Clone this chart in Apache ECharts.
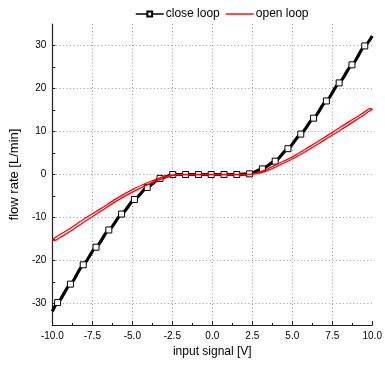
<!DOCTYPE html>
<html>
<head>
<meta charset="utf-8">
<script src="https://cdn.jsdelivr.net/npm/echarts@6/dist/echarts.min.js"></script>
<style>html,body{margin:0;padding:0;background:#fff}#c{width:385px;height:369px}</style>
</head>
<body>
<div id="c"></div>
<script>
// close loop markers (input signal [V], flow rate [L/min])
var closeX = [-9.67, -8.87, -8.07, -7.27, -6.47, -5.67, -4.87, -4.07, -3.27, -2.47, -1.67, -0.87, -0.07, 0.73, 1.53, 2.33, 3.13, 3.93, 4.73, 5.53, 6.33, 7.13, 7.93, 8.73, 9.53];
var closeY = [-29.8, -25.5, -21.0, -16.9, -12.9, -9.2, -5.8, -3.0, -0.9, 0, 0, 0, 0, 0, 0, 0.15, 1.3, 3.1, 6.0, 9.4, 13.1, 17.1, 21.3, 25.5, 29.9];
var closeStart = [-10.0, -31.8];
var closeEnd = [10.0, 32.2];

// open loop: increasing sweep (lower branch) then decreasing sweep (upper branch)
var openUpX = [-10.0, -9.85, -9.5, -9.0, -8.0, -7.0, -6.0, -5.0, -4.0, -3.5, -3.0, -2.5, -2.0, 2.0, 2.5, 3.0, 3.5, 4.0, 5.0, 6.0, 7.0, 8.0, 9.0, 9.5, 9.8, 10.0];
var openUpY = [-15.1, -15.35, -14.6, -13.5, -11.0, -8.6, -6.2, -4.1, -2.3, -1.5, -0.8, -0.25, -0.02, 0, 0.08, 0.4, 1.0, 1.8, 3.6, 5.7, 8.0, 10.3, 12.7, 13.9, 14.7, 15.2];
var openDownX = [10.0, 9.85, 9.5, 9.0, 8.0, 7.0, 6.0, 5.0, 4.0, 3.5, 3.0, 2.5, 2.0, -2.0, -2.5, -3.0, -3.5, -4.0, -5.0, -6.0, -7.0, -8.0, -9.0, -9.5, -9.8, -10.0];
var openDownY = [15.2, 15.3, 14.5, 13.3, 11.0, 8.6, 6.3, 4.1, 2.3, 1.4, 0.65, 0.15, 0.02, 0, -0.08, -0.45, -1.1, -1.8, -3.5, -5.6, -8.0, -10.3, -12.8, -13.9, -14.6, -15.1];

// axis ticks
var xMin = -10, xMax = 10, xStep = 2.5;
var yMin = -35, yMax = 35, yStep = 5, yLabelStep = 10;

var closeData = [{value: closeStart, symbol: 'none'}];
for (var i = 0; i < closeX.length; i++) closeData.push([closeX[i], closeY[i]]);
closeData.push({value: closeEnd, symbol: 'none'});

var openData = [];
for (var j = 0; j < openUpX.length; j++) openData.push([openUpX[j], openUpY[j]]);
for (var k = 0; k < openDownX.length; k++) openData.push([openDownX[k], openDownY[k]]);

var font = 'Liberation Sans, Arial, sans-serif';
var chart = echarts.init(document.getElementById('c'));
chart.setOption({
  animation: false,
  backgroundColor: '#fff',
  textStyle: {fontFamily: font},
  legend: {
    top: 3, left: 130, itemWidth: 28, itemHeight: 6, itemGap: 6,
    lineStyle: {width: 1.5},
    textStyle: {fontSize: 12, color: '#000', fontFamily: font, padding: [0, 0, 0, -3]},
    data: [
      {name: 'close loop'},
      {name: 'open loop', icon: 'path://M0,0L28,0L28,1.4L0,1.4Z', itemStyle: {color: '#ff0000'}}
    ]
  },
  grid: {left: 52, right: 8, top: 24, bottom: 44},
  xAxis: {
    type: 'value', min: xMin, max: xMax, interval: xStep,
    name: 'input signal [V]', nameLocation: 'middle', nameGap: 21,
    nameTextStyle: {fontSize: 12, color: '#000', fontFamily: font},
    axisLine: {onZero: false, lineStyle: {color: '#222', width: 1.2}},
    axisTick: {inside: true, length: 4, lineStyle: {color: '#222'}},
    minorTick: {show: true, splitNumber: 2, length: 2, lineStyle: {color: '#222'}},
    axisLabel: {fontSize: 10, color: '#000', margin: 6, formatter: function (v) { return v.toFixed(1); }},
    splitLine: {show: true, showMinLine: false, showMaxLine: false, lineStyle: {color: '#999', type: [1, 2.5], width: 1}}
  },
  yAxis: [{
    type: 'value', min: yMin, max: yMax, interval: yStep,
    name: 'flow rate [L/min]', nameLocation: 'middle', nameGap: 27,
    nameTextStyle: {fontSize: 13, color: '#000', fontFamily: font},
    axisLine: {onZero: false, lineStyle: {color: '#222', width: 1.2}},
    axisTick: {inside: true, length: 3, lineStyle: {color: '#222'}},
    axisLabel: {fontSize: 10, color: '#000', margin: 6, showMinLabel: false, showMaxLabel: false,
      formatter: function (v) { return (v % yLabelStep === 0) ? String(v) : ''; }},
    splitLine: {show: false}
  }, {
    type: 'value', min: yMin, max: yMax, position: 'left',
    axisLine: {show: false}, axisTick: {show: false}, axisLabel: {show: false},
    splitLine: {show: true, showMinLine: false, showMaxLine: false, lineStyle: {color: '#999', type: [1, 2.5], width: 1}}
  }],
  series: [{
    name: 'close loop', type: 'line', data: closeData,
    smooth: 0.2, smoothMonotone: 'x',
    symbol: 'rect', symbolSize: 6, showAllSymbol: true,
    lineStyle: {color: '#000', width: 3.2},
    itemStyle: {color: '#fff', borderColor: '#000', borderWidth: 1},
    z: 2
  }, {
    name: 'open loop', type: 'line', data: openData,
    smooth: 0.3, showSymbol: false, symbol: 'none',
    lineStyle: {color: '#ff0000', width: 1.3},
    itemStyle: {color: '#ff0000'},
    z: 3
  }]
});
</script>
</body>
</html>
